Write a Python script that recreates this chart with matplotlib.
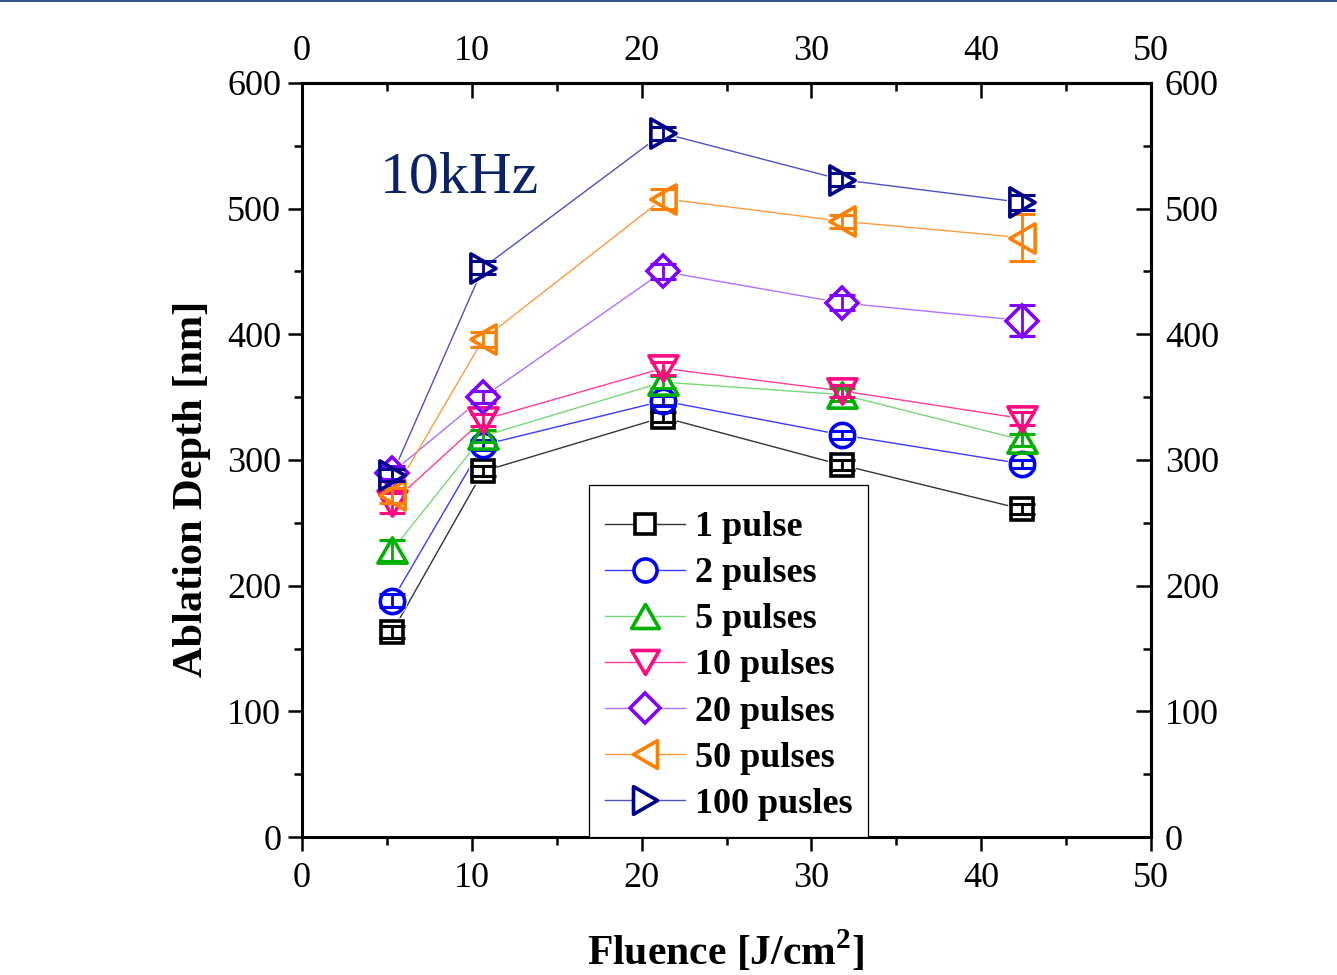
import matplotlib
matplotlib.use("Agg")
import matplotlib.pyplot as plt
from matplotlib.lines import Line2D
from matplotlib.patches import Rectangle
from matplotlib.path import Path
from matplotlib.ticker import MultipleLocator

plt.rcParams['font.family'] = ['Liberation Serif', 'DejaVu Serif']
plt.rcParams['mathtext.fontset'] = 'custom'
plt.rcParams['mathtext.rm'] = 'Liberation Serif'
plt.rcParams['mathtext.bf'] = 'Liberation Serif:bold'

# ---- data ----
fluence = [5.3, 10.66, 21.26, 31.8, 42.4]
labels = ['1 pulse', '2 pulses', '5 pulses', '10 pulses', '20 pulses', '50 pulses', '100 pusles']
depth_1 = [163, 291, 334, 296, 261]
depth_2 = [188, 312, 347, 320, 297]
depth_5 = [228, 319, 362, 352, 316]
depth_10 = [266, 332, 373, 355, 333]
depth_20 = [290, 350, 450, 425, 411]
depth_50 = [272, 396, 508, 490, 477]
depth_100 = [288, 453, 560, 523, 505]
err_1 = [5, 4, 4, 4, 4]
err_2 = [5, 4, 4, 3, 3]
err_5 = [8, 5, 5, 5, 5]
err_10 = [8, 5, 5, 5, 5]
err_20 = [5, 5, 6, 6, 12]
err_50 = [6, 6, 8, 5, 19]
err_100 = [5, 5, 5, 5, 6]
xticks = [0, 10, 20, 30, 40, 50]
yticks = [0, 100, 200, 300, 400, 500, 600]

series = [depth_1, depth_2, depth_5, depth_10, depth_20, depth_50, depth_100]
errors = [err_1, err_2, err_5, err_10, err_20, err_50, err_100]


def tri(pts):
    verts = list(pts) + [pts[0]]
    codes = [Path.MOVETO, Path.LINETO, Path.LINETO, Path.CLOSEPOLY]
    return Path(verts, codes)


# ---- styles ----
tri_up = tri([(-1, -0.866), (1, -0.866), (0, 0.866)])
tri_dn = tri([(-1, 0.866), (1, 0.866), (0, -0.866)])
tri_lf = tri([(0.866, -1), (0.866, 1), (-0.866, 0)])
tri_rt = tri([(-0.866, -1), (-0.866, 1), (0.866, 0)])
markers = ['s', 'o', tri_up, tri_dn, 'D', tri_lf, tri_rt]
msizes = [15.5, 17.5, 21, 21, 16.5, 21, 21]
mcolors = ['#000000', '#0000ff', '#00b000', '#ff0a80', '#8000ff', '#ff8000', '#00008b']
lcolors = ['#333333', '#3a3aff', '#77d977', '#ff3d99', '#b070ff', '#ff9a40', '#5050c0']
MEW = 2.6

fig = plt.figure(figsize=(13.37, 9.75), dpi=100)
ax = fig.add_axes([302 / 1337, 1 - 837 / 975, (1151 - 302) / 1337, (837 - 83) / 975])

for i, (y, e) in enumerate(zip(series, errors)):
    ax.plot(fluence, y, '-', color=lcolors[i], lw=1.0, zorder=2)
for i, (y, e) in enumerate(zip(series, errors)):
    ax.plot(fluence, y, linestyle='none', marker=markers[i], ms=msizes[i],
            mfc='white', mec='white', mew=MEW + 1.5, zorder=3)
for i, (y, e) in enumerate(zip(series, errors)):
    z = 4 + i * 0.1
    ax.errorbar(fluence, y, yerr=e, fmt='none', ecolor=mcolors[i], elinewidth=2.0,
                capsize=9.5, capthick=2.2, zorder=z)
    ax.plot(fluence, y, linestyle='none', marker=markers[i], ms=msizes[i],
            mfc='none', mec=mcolors[i], mew=MEW, zorder=z + 0.05)

ax.set_xlim(0, 50)
ax.set_ylim(0, 600)
ax.set_xticks(xticks)
ax.set_yticks(yticks)
ax.xaxis.set_minor_locator(MultipleLocator(5))
ax.yaxis.set_minor_locator(MultipleLocator(50))
ax.tick_params(which='major', direction='out', length=10, width=1.8, labelsize=26)
ax.tick_params(which='minor', direction='out', length=5.5, width=1.8)
ax.tick_params(axis='x', which='major', pad=8)
ax.tick_params(axis='y', which='major', pad=5)
for s in ax.spines.values():
    s.set_linewidth(2.2)

secx = ax.secondary_xaxis('top')
secx.set_xticks(xticks)
secx.xaxis.set_minor_locator(MultipleLocator(5))
secx.tick_params(which='major', direction='in', length=10.5, width=1.8, labelsize=26, pad=11)
secx.tick_params(which='minor', direction='in', length=5.5, width=1.8)
secx.spines['top'].set_linewidth(2.2)

secy = ax.secondary_yaxis('right')
secy.set_yticks(yticks)
secy.yaxis.set_minor_locator(MultipleLocator(50))
secy.tick_params(which='major', direction='in', length=10.5, width=1.8, labelsize=26, pad=10)
secy.tick_params(which='minor', direction='in', length=5.5, width=1.8)
secy.spines['right'].set_linewidth(2.2)

# axis labels
fig.text(726 / 1337, 1 - 965 / 975, r'Fluence [J/cm$^{\mathbf{2}}$]', fontsize=30,
         fontweight='bold', ha='center', va='baseline')
fig.text(192 / 1337, 1 - 489 / 975, 'Ablation Depth [nm]', fontsize=30.5,
         fontweight='bold', ha='center', va='center', rotation=90)

ax.text(0.092, 0.855, '10kHz', transform=ax.transAxes, fontsize=43,
        color='#0b2366', ha='left', va='baseline', zorder=10)

# legend
handles = []
for i in range(len(labels)):
    handles.append(Line2D([], [], color=lcolors[i], lw=1.0, marker=markers[i],
                          ms=msizes[i] * 0.95, mfc='white', mec=mcolors[i], mew=MEW))
leg = ax.legend(handles, labels, loc='lower left', bbox_to_anchor=(0.338, 0.0),
                borderaxespad=0, prop={'family': 'Liberation Serif', 'weight': 'bold', 'size': 26},
                frameon=False, handlelength=2.2, handletextpad=0.3,
                labelspacing=0.355, borderpad=0.45)
leg.set_zorder(20)
ax.add_patch(Rectangle((0.338, 0.0), (868 - 589) / 849, (837 - 485) / 754,
                       transform=ax.transAxes, facecolor='white', edgecolor='black',
                       linewidth=0.9, zorder=19))

# top border line
fig.add_artist(Rectangle((0, 1 - 2 / 975), 1, 2 / 975, transform=fig.transFigure,
                         facecolor='#34558f', edgecolor='none'))

fig.savefig('out.png', dpi=100)
